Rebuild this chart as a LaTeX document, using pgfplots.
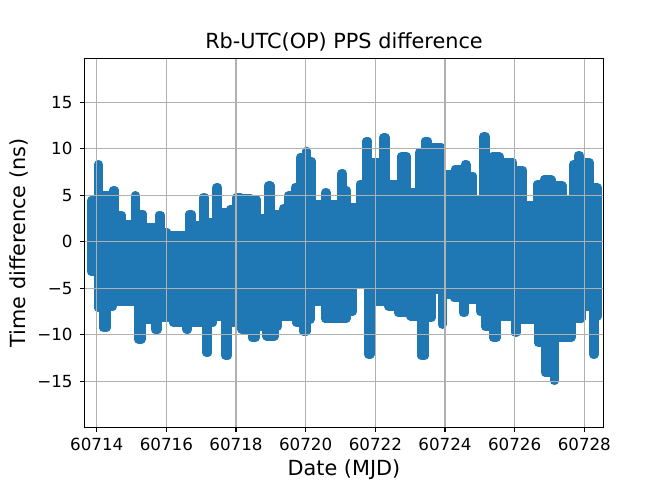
\documentclass[border=0pt]{standalone}
\usepackage{fontspec}
\setmainfont{DejaVu Sans}
\usepackage{pgfplots}
\pgfplotsset{compat=1.18}
\definecolor{tabblue}{HTML}{1F77B4}
\definecolor{gridgray}{HTML}{B0B0B0}
% x values are MJD - 60700 (offset keeps TeX's arithmetic precise); tick labels show the MJD
\begin{document}
\begin{tikzpicture}
\useasboundingbox (-84.7bp,-52.7bp) rectangle (585.3bp,427.3bp);
\begin{axis}[
  at={(0,0)}, anchor=south west,
  scale only axis, width=518.6bp, height=369bp,
  xmin=13.655, xmax=28.545, ymin=-19.95, ymax=19.73,
  axis on top,
  grid=major, major grid style={gridgray, line width=1.1bp},
  axis line style={line width=1.1bp, black},
  every tick/.style={black, line width=1.1bp},
  tick align=outside, major tick length=4.9bp,
  xtick pos=left, ytick pos=left,
  xtick={14,16,18,20,22,24,26,28},
  xticklabels={60714,60716,60718,60720,60722,60724,60726,60728},
  ytick={-15,-10,-5,0,5,10,15},
  yticklabels={−15,−10,−5,0,5,10,15},
  ticklabel style={font=\fontsize{16.7bp}{20bp}\selectfont, inner sep=0pt},
  xticklabel style={anchor=base, yshift=-18.5bp},
  yticklabel style={anchor=east, xshift=-7.1bp},
  every axis title shift=0pt,
  title={Rb-UTC(OP) PPS difference},
  title style={font=\fontsize{20.8bp}{24bp}\selectfont, inner sep=0pt, at={(axis description cs:0.5,1.0271)}, anchor=base},
  xlabel={Date (MJD)},
  xlabel style={font=\fontsize{20.8bp}{24bp}\selectfont, inner sep=0pt, at={(axis description cs:0.5,-0.1293)}, anchor=base},
  ylabel={Time difference (ns)},
  ylabel style={font=\fontsize{20.8bp}{24bp}\selectfont, inner sep=0pt, at={(axis description cs:-0.1151,0.5)}, anchor=base},
]
\addplot[draw=tabblue, fill=tabblue, line width=8.6bp, line join=round, line cap=round, mark=none] coordinates {
(13.836,4.42)(14.046,4.42)(14.046,8.34)(14.056,8.34)(14.056,4.95)(14.477,4.95)(14.477,5.56)(14.515,5.56)(14.515,2.89)(14.707,2.89)(14.707,1.93)(15.099,1.93)(15.099,4.95)(15.118,4.95)(15.118,3.00)(15.329,3.00)(15.329,1.57)(15.788,1.57)(15.788,2.89)(15.836,2.89)(15.836,1.04)(16.018,1.04)(16.018,0.68)(16.659,0.68)(16.659,3.00)(16.716,3.00)(16.716,1.75)(17.061,1.75)(17.061,4.78)(17.099,4.78)(17.099,2.10)(17.444,2.10)(17.444,5.85)(17.482,5.85)(17.482,3.17)(17.826,3.17)(17.826,3.46)(18.018,3.46)(18.018,4.78)(18.133,4.78)(18.133,4.67)(18.420,4.67)(18.420,4.53)(18.582,4.53)(18.582,2.53)(18.927,2.53)(18.927,6.02)(18.984,6.02)(18.984,3.00)(19.358,3.00)(19.358,3.60)(19.501,3.60)(19.501,4.95)(19.692,4.95)(19.692,5.85)(19.836,5.85)(19.836,9.05)(20.027,9.05)(20.027,9.76)(20.027,8.70)(20.161,8.70)(20.161,4.06)(20.573,4.06)(20.573,5.31)(20.592,5.31)(20.592,4.06)(21.032,4.06)(21.032,7.34)(21.070,7.34)(21.070,5.49)(21.185,5.49)(21.185,3.71)(21.559,3.71)(21.559,6.20)(21.750,6.20)(21.750,10.83)(21.788,10.83)(21.788,8.52)(22.228,8.52)(22.228,11.19)(22.295,11.19)(22.295,6.20)(22.755,6.20)(22.755,9.23)(22.889,9.23)(22.889,5.31)(23.252,5.31)(23.252,9.59)(23.425,9.59)(23.425,10.83)(23.511,10.83)(23.511,10.12)(23.893,10.12)(23.893,7.27)(24.286,7.27)(24.286,7.81)(24.573,7.81)(24.573,8.34)(24.611,8.34)(24.611,7.09)(24.803,7.09)(24.803,4.60)(25.099,4.60)(25.099,11.30)(25.166,11.30)(25.166,8.70)(25.358,8.70)(25.358,9.16)(25.568,9.16)(25.568,8.55)(25.951,8.55)(25.951,7.73)(26.219,7.73)(26.219,3.96)(26.659,3.96)(26.659,6.20)(26.841,6.20)(26.841,6.67)(27.051,6.67)(27.051,6.02)(27.367,6.02)(27.367,4.42)(27.683,4.42)(27.683,8.34)(27.826,8.34)(27.826,9.30)(27.865,9.30)(27.865,8.52)(28.152,8.52)(28.152,5.85)(28.372,5.85)
(28.372,-8.02)(28.295,-8.02)(28.295,-12.12)(28.257,-12.12)(28.257,-6.95)(27.913,-6.95)(27.913,-8.30)(27.625,-8.30)(27.625,-10.30)(27.147,-10.30)(27.147,-14.97)(27.137,-14.97)(27.137,-14.08)(26.870,-14.08)(26.870,-10.87)(26.678,-10.87)(26.678,-8.38)(26.047,-8.38)(26.047,-9.73)(26.008,-9.73)(26.008,-8.02)(25.472,-8.02)(25.472,-10.33)(25.386,-10.33)(25.386,-9.09)(25.147,-9.09)(25.147,-7.48)(25.003,-7.48)(25.003,-6.24)(24.563,-6.24)(24.563,-7.66)(24.525,-7.66)(24.525,-6.06)(24.257,-6.06)(24.257,-5.70)(23.922,-5.70)(23.922,-8.91)(23.922,-5.17)(23.606,-5.17)(23.606,-8.20)(23.415,-8.20)(23.415,-12.29)(23.329,-12.29)(23.329,-8.02)(23.013,-8.02)(23.013,-7.66)(22.659,-7.66)(22.659,-6.95)(22.372,-6.95)(22.372,-6.42)(21.855,-6.42)(21.855,-12.12)(21.798,-12.12)(21.798,-4.63)(21.358,-4.63)(21.358,-7.48)(21.166,-7.48)(21.166,-8.25)(20.554,-8.25)(20.554,-6.42)(20.133,-6.42)(20.133,-8.38)(20.018,-8.38)(20.018,-9.62)(19.932,-9.62)(19.932,-8.73)(19.740,-8.73)(19.740,-8.02)(19.204,-8.02)(19.204,-9.09)(19.109,-9.09)(19.109,-10.16)(18.879,-10.16)(18.879,-9.09)(18.554,-9.09)(18.554,-10.33)(18.458,-10.33)(18.458,-9.44)(18.161,-9.44)(18.161,-8.73)(17.769,-8.73)(17.769,-12.22)(17.692,-12.22)(17.692,-8.02)(17.338,-8.02)(17.338,-8.73)(17.195,-8.73)(17.195,-11.94)(17.157,-11.94)(17.157,-8.73)(16.621,-8.73)(16.621,-9.44)(16.582,-9.44)(16.582,-8.73)(16.200,-8.73)(16.200,-8.20)(15.759,-8.20)(15.759,-9.44)(15.673,-9.44)(15.673,-8.38)(15.281,-8.38)(15.281,-10.51)(15.195,-10.51)(15.195,-6.42)(14.468,-6.42)(14.468,-6.95)(14.276,-6.95)(14.276,-9.27)(14.190,-9.27)(14.190,-7.13)(14.046,-7.13)(14.046,-3.21)(13.836,-3.21)
} -- cycle;
\end{axis}
\end{tikzpicture}
\end{document}
